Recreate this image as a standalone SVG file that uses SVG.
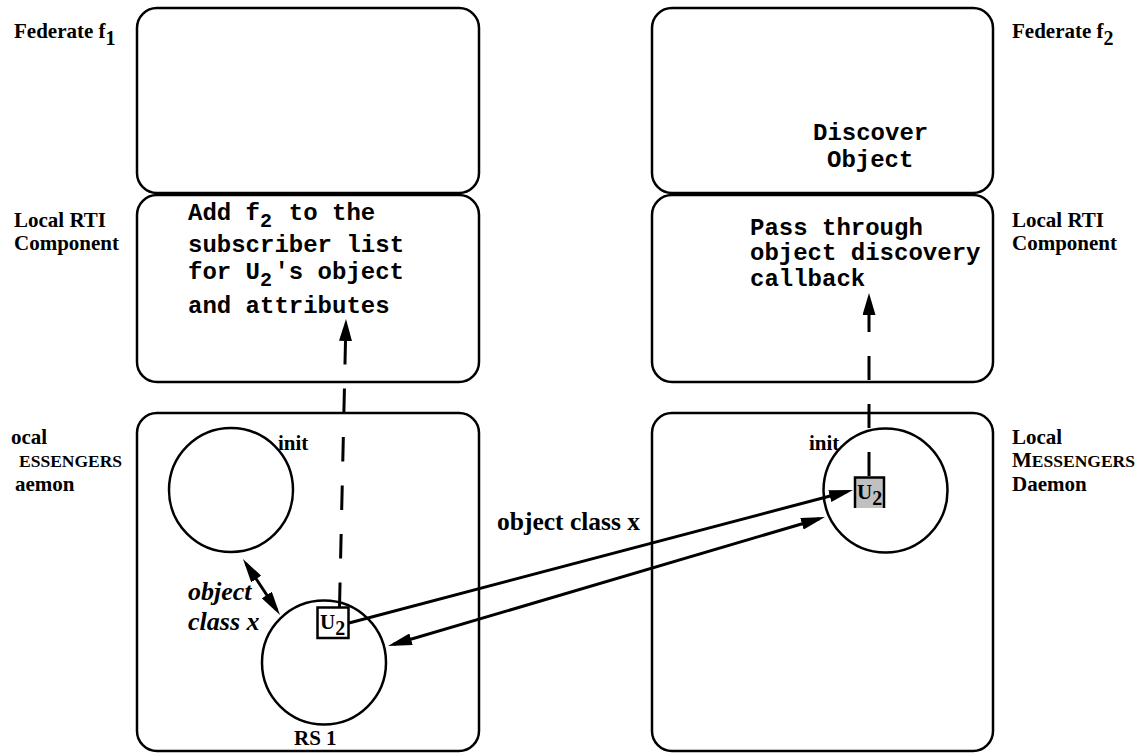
<svg xmlns="http://www.w3.org/2000/svg" width="1147" height="753" viewBox="0 0 1147 753">
  <defs>
    <style>
      .panel { fill: #ffffff; stroke: #000000; stroke-width: 2.5; }
      .proc { fill: #ffffff; stroke: #000000; stroke-width: 2.5; }
      .lbl { font-family: "Liberation Serif", "Times New Roman", serif; font-weight: bold; font-size: 21px; fill: #000000; }
      .sc { font-size: 17.5px; }
      .big { font-size: 25.5px; }
      .ital { font-family: "Liberation Serif", "Times New Roman", serif; font-weight: bold; font-style: italic; font-size: 26px; fill: #000000; }
      .code { font-family: "Liberation Mono", "Courier New", monospace; font-weight: bold; font-size: 24px; fill: #000000; }
      .sub { font-size: 20px; }
      .tok { font-size: 21px; }
      .link { fill: none; stroke: #000000; stroke-width: 3; }
      .dash { fill: none; stroke: #000000; stroke-width: 3; }
    </style>
    <marker id="head" viewBox="0 0 24 12" markerWidth="24" markerHeight="12" refX="18" refY="6" markerUnits="userSpaceOnUse" orient="auto-start-reverse">
      <path d="M0,0 L24,6 L0,12 z" fill="#000000"/>
    </marker>
    <marker id="dhead" viewBox="0 0 22 13" markerWidth="22" markerHeight="13" refX="0" refY="6.5" markerUnits="userSpaceOnUse" orient="auto">
      <path d="M0,0 L22,6.5 L0,13 z" fill="#000000"/>
    </marker>
  </defs>

  <rect width="1147" height="753" fill="#ffffff"/>

  <!-- Federate f1 side -->
  <g id="federate-f1">
    <rect class="panel" x="137" y="8" width="342" height="185" rx="20" ry="20"/>
    <text class="lbl" x="14" y="38">Federate f<tspan class="sub" dy="7">1</tspan></text>
  </g>

  <g id="rti-f1">
    <rect class="panel" x="137" y="195" width="342" height="187" rx="20" ry="20"/>
    <text class="lbl" x="14" y="227">Local RTI</text>
    <text class="lbl" x="14" y="250">Component</text>
    <text class="code" x="188" y="220">Add f<tspan class="sub" x="260" y="227">2</tspan><tspan x="274.4" y="220"> to the</tspan></text>
    <text class="code" x="188" y="252">subscriber list</text>
    <text class="code" x="188" y="279">for U<tspan class="sub" x="260" y="286">2</tspan><tspan x="274.4" y="279">'s object</tspan></text>
    <text class="code" x="188" y="313">and attributes</text>
  </g>

  <g id="daemon-f1">
    <rect class="panel" x="137" y="413" width="342" height="338" rx="20" ry="20"/>
    <text class="lbl" x="11" y="444">ocal</text>
    <text class="lbl sc" x="19" y="467">ESSENGERS</text>
    <text class="lbl" x="15" y="491">aemon</text>
  </g>

  <g id="init-f1">
    <circle class="proc" cx="231" cy="490" r="62"/>
    <text class="lbl" x="278" y="450">init</text>
  </g>

  <g id="rs1">
    <circle class="proc" cx="324" cy="662.5" r="62"/>
    <text class="lbl" x="294" y="745">RS 1</text>
  </g>

  <!-- Federate f2 side -->
  <g id="federate-f2">
    <rect class="panel" x="652" y="8" width="341" height="185" rx="20" ry="20"/>
    <text class="lbl" x="1012" y="38">Federate f<tspan class="sub" dy="7">2</tspan></text>
    <text class="code" x="813" y="140">Discover</text>
    <text class="code" x="827" y="167">Object</text>
  </g>

  <g id="rti-f2">
    <rect class="panel" x="652" y="195" width="341" height="187" rx="20" ry="20"/>
    <text class="lbl" x="1012" y="227">Local RTI</text>
    <text class="lbl" x="1012" y="250">Component</text>
    <text class="code" x="750" y="235">Pass through</text>
    <text class="code" x="750" y="260">object discovery</text>
    <text class="code" x="750" y="286">callback</text>
  </g>

  <g id="daemon-f2">
    <rect class="panel" x="652" y="413" width="341" height="338" rx="20" ry="20"/>
    <text class="lbl" x="1012" y="444">Local</text>
    <text class="lbl" x="1012" y="467">M<tspan class="sc">ESSENGERS</tspan></text>
    <text class="lbl" x="1012" y="491">Daemon</text>
  </g>

  <g id="init-f2">
    <circle class="proc" cx="885.5" cy="490.5" r="62"/>
    <text class="lbl" x="809" y="450">init</text>
  </g>

  <!-- Connectors -->
  <g id="connectors">
    <!-- exchange between init and RS 1 -->
    <line class="link" x1="246.3" y1="564" x2="276.7" y2="610" marker-start="url(#head)" marker-end="url(#head)"/>
    <!-- U2 travels to the remote init -->
    <line class="link" x1="349" y1="623" x2="847.2" y2="491.5" marker-end="url(#head)"/>
    <!-- object class x path between daemons -->
    <line class="link" x1="393.8" y1="644.3" x2="819.2" y2="518.7" marker-start="url(#head)" marker-end="url(#head)"/>
    <!-- local RTI notifications -->
    <path class="dash" d="M339.5,607 L345.5,341" stroke-dasharray="24.5 24" marker-end="url(#dhead)"/>
    <path class="dash" d="M869,476 L869,315" stroke-dasharray="24 24" marker-end="url(#dhead)"/>
  </g>

  <!-- Agent tokens -->
  <g id="u2-local">
    <rect x="317.5" y="607.5" width="31" height="30.5" fill="#ffffff" stroke="#000000" stroke-width="2.5"/>
    <text class="lbl tok" x="320" y="629">U<tspan class="sub" dy="6">2</tspan></text>
  </g>

  <g id="u2-remote">
    <rect x="854" y="477" width="31" height="31" fill="#c0c0c0"/>
    <path d="M855,508 L855,477.5 L884,477.5 L884,508" fill="none" stroke="#000000" stroke-width="2.5"/>
    <text class="lbl tok" x="857" y="499">U<tspan class="sub" dy="6">2</tspan></text>
  </g>

  <g id="label-object-class">
    <text class="lbl big" x="497" y="530">object class x</text>
    <text class="ital" x="188" y="600">object</text>
    <text class="ital" x="188" y="630">class x</text>
  </g>
</svg>
